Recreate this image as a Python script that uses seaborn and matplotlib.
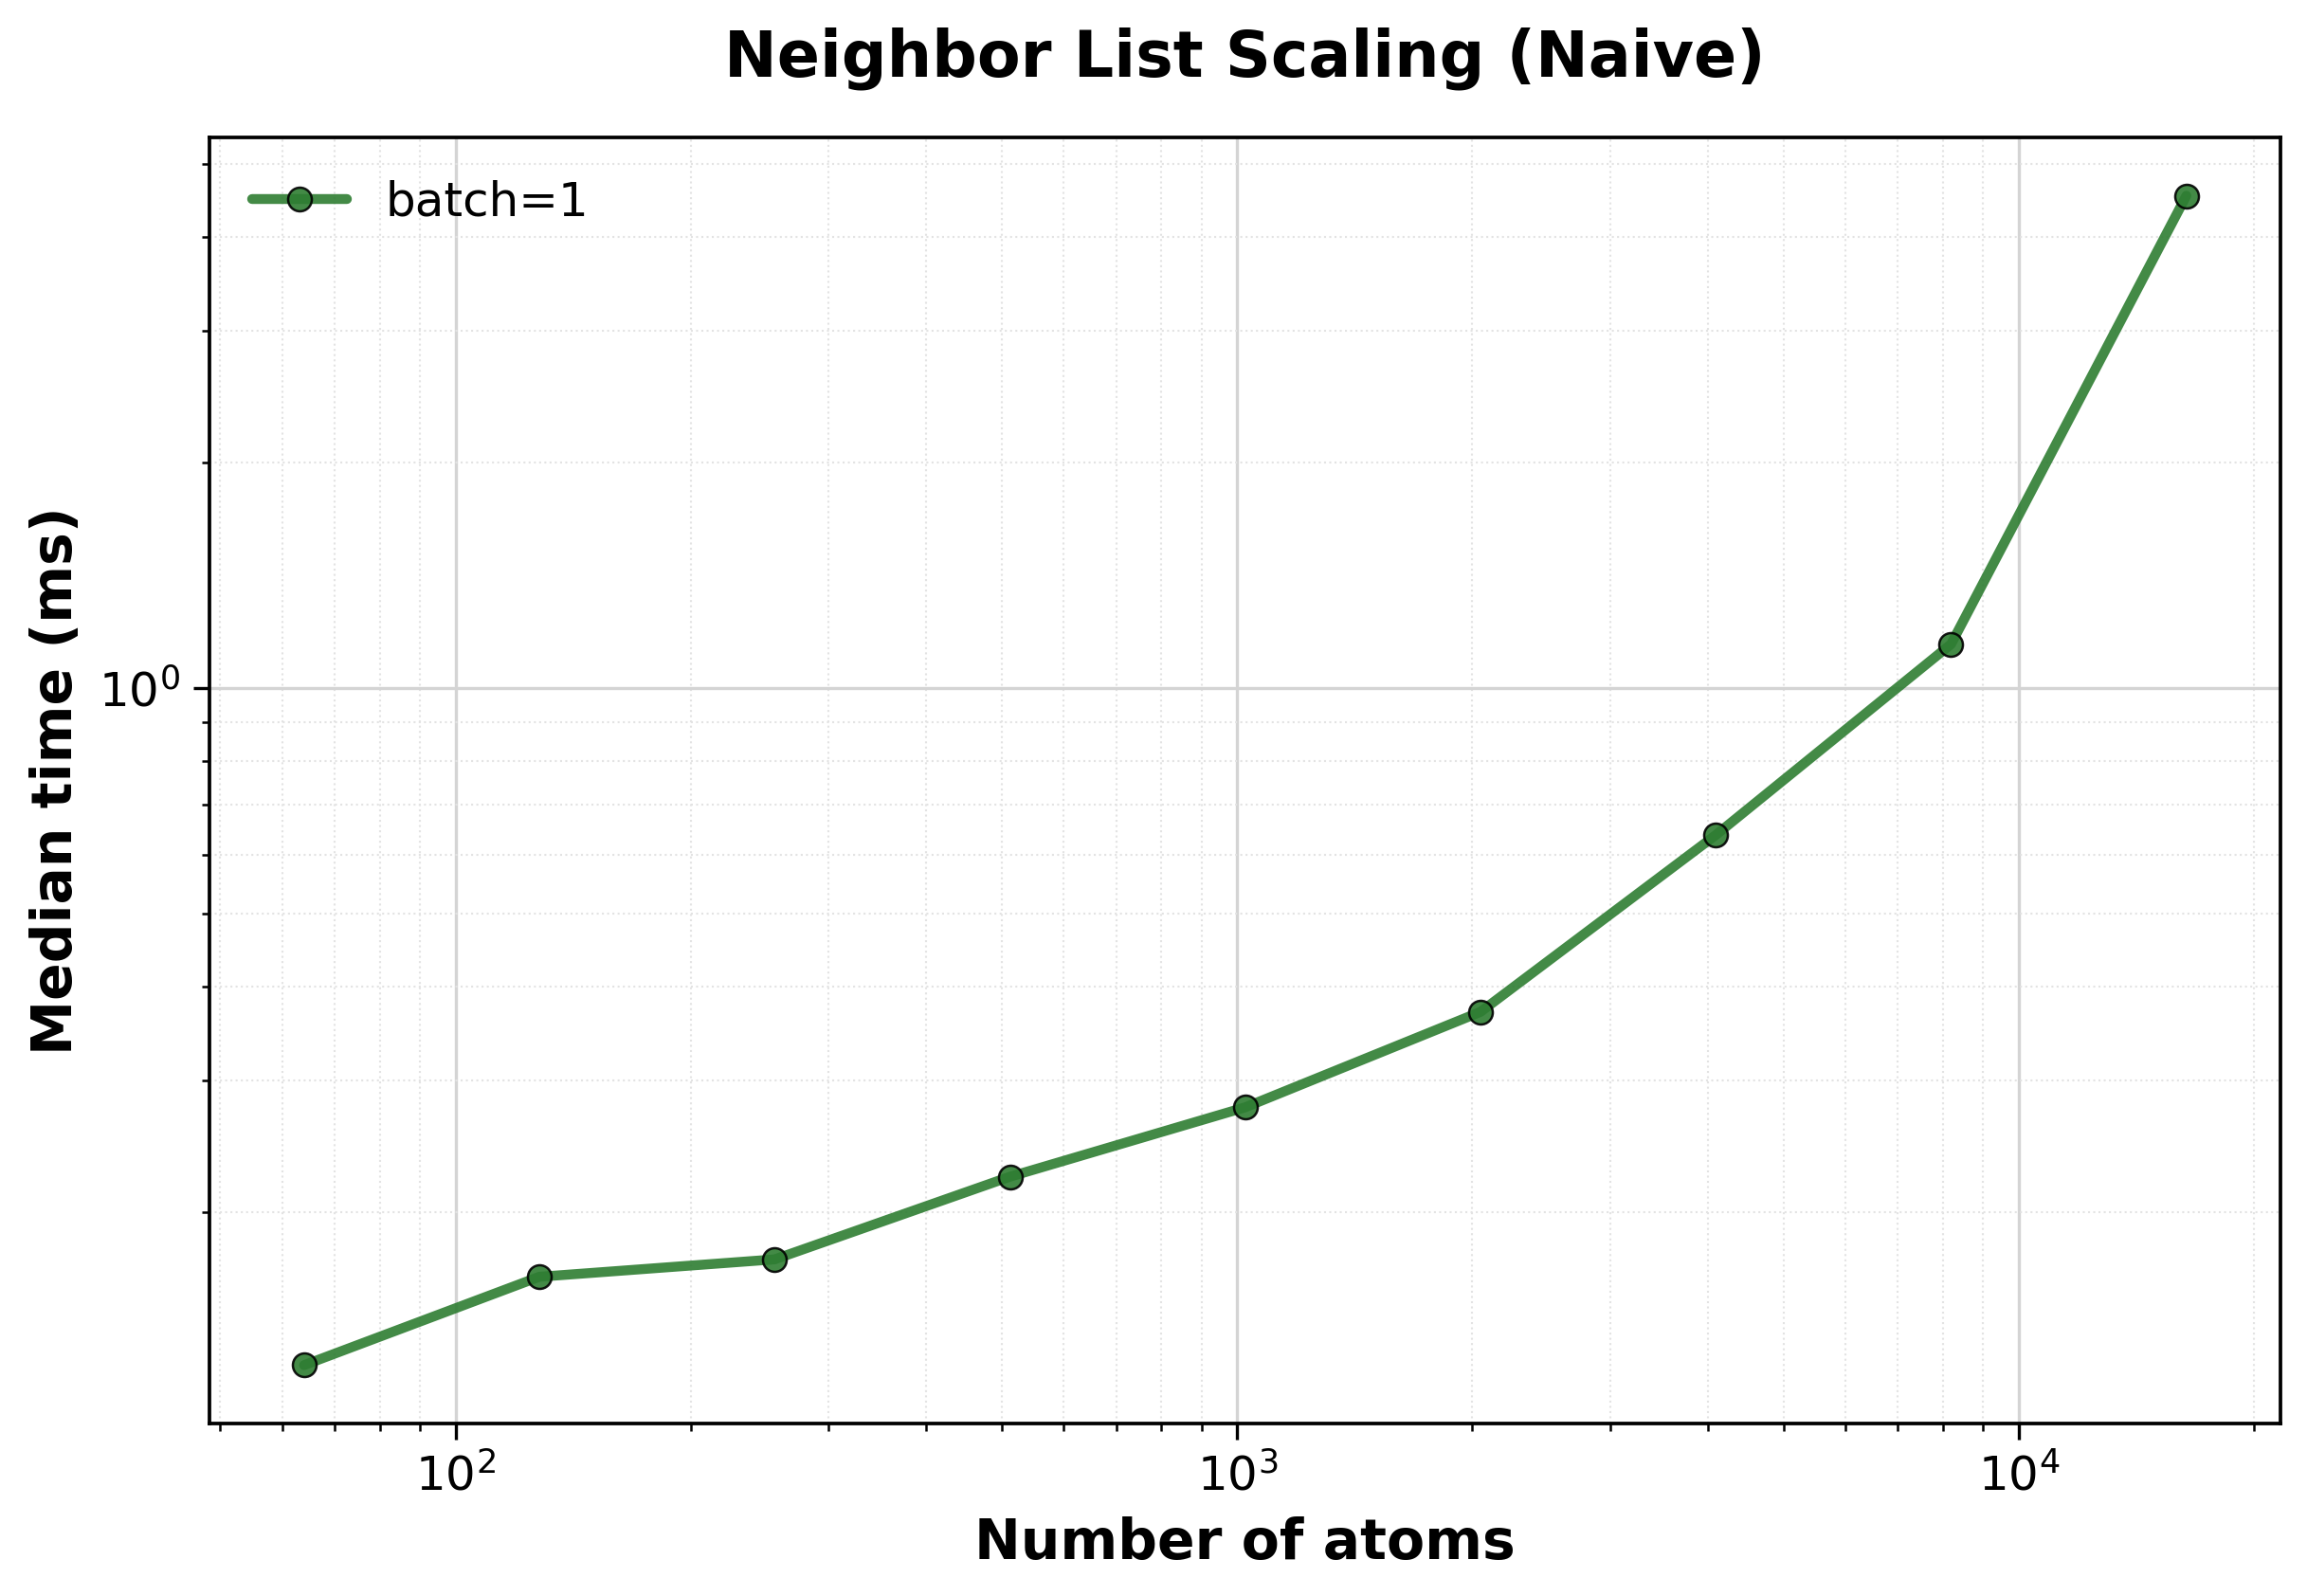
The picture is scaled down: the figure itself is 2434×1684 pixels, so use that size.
import matplotlib

matplotlib.use("Agg")
import matplotlib.pyplot as plt
import pandas as pd
import seaborn as sns

# benchmark results
n_atoms = [64, 128, 256, 512, 1024, 2048, 4096, 8192, 16384]
median_ms = [0.125, 0.164, 0.173, 0.223, 0.276, 0.370, 0.637, 1.145, 4.54]
series_label = "batch=1"

LINE_COLOR = "#2E7D32"


def plot_scaling(path):
    """Plot median neighbor list time against system size on log axes."""
    sns.set_style("ticks")
    plt.rcParams["font.family"] = ["DejaVu Sans"]
    for key in ["text.color", "axes.labelcolor", "xtick.color", "ytick.color"]:
        plt.rcParams[key] = "black"

    data = pd.DataFrame({"atoms": n_atoms, "time": median_ms, "series": series_label})

    fig, ax = plt.subplots(figsize=(2434 / 300, 1684 / 300), dpi=300)
    fig.subplots_adjust(left=0.091, right=0.9885, top=0.914, bottom=0.108)

    sns.lineplot(
        data=data,
        x="atoms",
        y="time",
        hue="series",
        palette=[LINE_COLOR],
        marker="o",
        markersize=6,
        markeredgecolor="black",
        markeredgewidth=0.6,
        linewidth=2.5,
        alpha=0.9,
        ax=ax,
    )

    ax.set_xscale("log")
    ax.set_yscale("log")

    # grids: solid major, dotted minor
    ax.grid(True, which="major", color="#d4d4d4", linewidth=0.8)
    ax.grid(True, which="minor", color="#e3e3e3", linewidth=0.5, linestyle=":")
    ax.set_axisbelow(True)

    for spine in ax.spines.values():
        spine.set_visible(True)
        spine.set_color("black")
        spine.set_linewidth(0.9)

    ax.tick_params(axis="both", which="major", labelsize=12, length=4, width=0.8)
    ax.tick_params(axis="both", which="minor", length=2, width=0.6)

    ax.set_xlabel("Number of atoms", fontsize=14, fontweight="bold")
    ax.set_ylabel("Median time (ms)", fontsize=14, fontweight="bold")
    ax.set_title("Neighbor List Scaling (Naive)", fontsize=16, fontweight="bold", pad=15.5)

    ax.legend(loc="upper left", fontsize=12, frameon=False)

    fig.savefig(path, dpi=300)


if __name__ == "__main__":
    plot_scaling("out.png")
